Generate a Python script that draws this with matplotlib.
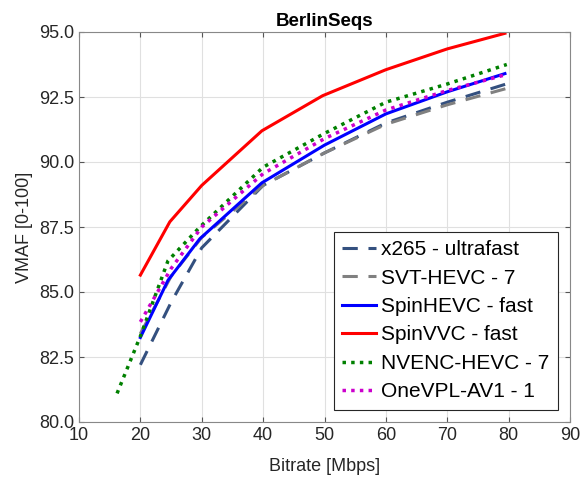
import numpy as np
import matplotlib.pyplot as plt
from matplotlib.ticker import FormatStrFormatter

plt.rcParams['font.family'] = ['Liberation Sans', 'DejaVu Sans']

# bitrate [Mbps] and VMAF per encoder
x265_rate = [20, 25, 30, 40, 50, 60, 70, 80.3]
x265_vmaf = [82.2, 84.6, 86.7, 89.1, 90.35, 91.5, 92.3, 93.05]

svt_rate = [20, 25, 30, 40, 50, 60, 70, 80]
svt_vmaf = [83.4, 85.6, 87.1, 89.1, 90.35, 91.45, 92.2, 92.85]

spinhevc_rate = [20, 24.5, 29.7, 39.8, 50, 60, 70, 79.4]
spinhevc_vmaf = [83.25, 85.45, 87.05, 89.2, 90.65, 91.85, 92.7, 93.4]

spinvvc_rate = [20, 24.8, 30, 39.8, 49.7, 60, 70, 79.4]
spinvvc_vmaf = [85.65, 87.7, 89.1, 91.2, 92.55, 93.55, 94.35, 94.95]

nvenc_rate = [16.2, 20, 24.5, 29.7, 40, 50, 60, 70, 79.7]
nvenc_vmaf = [81.1, 83.3, 86.2, 87.5, 89.8, 91.1, 92.3, 93.0, 93.75]

onevpl_rate = [20, 25, 30, 40, 50, 60, 70, 79.4]
onevpl_vmaf = [83.85, 85.9, 87.5, 89.55, 90.9, 92.0, 92.75, 93.35]

fig = plt.figure(figsize=(5.87, 4.78), dpi=100)
ax = fig.add_axes([79/587, 1 - 422/478, 491/587, 390/478])

ax.plot(x265_rate, x265_vmaf, color='#34507f', ls=(0, (5, 3.5)), lw=2.2, label='x265 - ultrafast')
ax.plot(svt_rate, svt_vmaf, color='#808080', ls=(0, (5, 3.5)), lw=2.2, label='SVT-HEVC - 7')
ax.plot(spinhevc_rate, spinhevc_vmaf, color='#0000ff', lw=2.2, label='SpinHEVC - fast')
ax.plot(spinvvc_rate, spinvvc_vmaf, color='#ff0000', lw=2.2, label='SpinVVC - fast')
ax.plot(nvenc_rate, nvenc_vmaf, color='#008000', ls=(0, (1, 1.5)), lw=2.5, label='NVENC-HEVC - 7')
ax.plot(onevpl_rate, onevpl_vmaf, color='#cc00cc', ls=(0, (1, 1.5)), lw=2.5, label='OneVPL-AV1 - 1')

ax.set_xlim(10, 90)
ax.set_ylim(80, 95)
ax.set_xticks(np.arange(10, 91, 10))
ax.set_yticks(np.arange(80, 95.1, 2.5))
ax.yaxis.set_major_formatter(FormatStrFormatter('%.1f'))
ax.grid(True, color='#e0e0e0', lw=0.8)
ax.tick_params(direction='in', top=True, right=True, labelsize=13, color='#555555', labelcolor='#262626')
for s in ax.spines.values():
    s.set_color('#888888')

ax.set_title('BerlinSeqs', fontsize=13.5, fontweight='bold', pad=4)
ax.set_xlabel('Bitrate [Mbps]', fontsize=13, color='#262626', labelpad=10)
ax.set_ylabel('VMAF [0-100]', fontsize=13, color='#262626')

leg = ax.legend(loc='lower right', fontsize=15, fancybox=False, framealpha=1,
                edgecolor='#262626', handlelength=1.6, borderaxespad=0.6,
                labelspacing=0.45, handletextpad=0.25, borderpad=0.4)
leg.get_frame().set_linewidth(0.8)

fig.savefig('out.png', dpi=100)
